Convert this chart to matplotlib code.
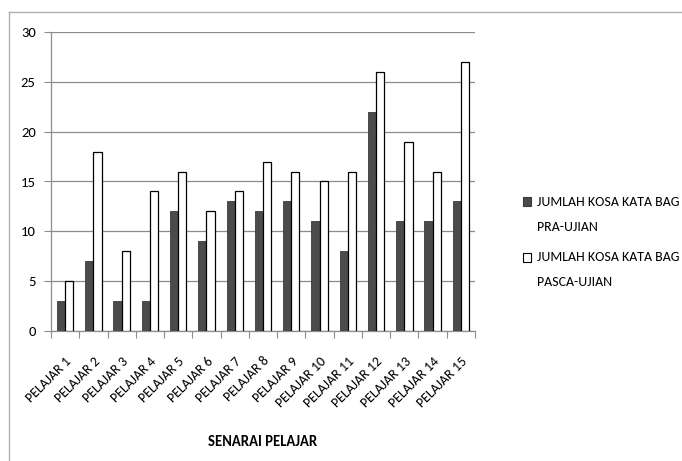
import matplotlib; matplotlib.use('Agg')
import matplotlib.pyplot as plt
from matplotlib.patches import Rectangle
import numpy as np

plt.rcParams['font.family'] = ['Carlito', 'DejaVu Sans']

students = ['PELAJAR %d' % i for i in range(1, 16)]
pra = [3, 7, 3, 3, 12, 9, 13, 12, 13, 11, 8, 22, 11, 11, 13]
pasca = [5, 18, 8, 14, 16, 12, 14, 17, 16, 15, 16, 26, 19, 16, 27]
series_names = [('JUMLAH KOSA KATA BAG', 'PRA-UJIAN'), ('JUMLAH KOSA KATA BAG', 'PASCA-UJIAN')]
series_colors = ['#4b4b4b', 'white']
edge_colors = ['#3a3a3a', 'black']

W, H = 682, 461
fig = plt.figure(figsize=(W/100, H/100), dpi=100)
ax = fig.add_axes([51/W, 130/H, 424/W, 299/H])

x = np.arange(len(students))
w = 0.29
ax.bar(x - w/2, pra, w, color=series_colors[0], edgecolor=edge_colors[0], linewidth=0.6, zorder=3)
ax.bar(x + w/2, pasca, w, color=series_colors[1], edgecolor=edge_colors[1], linewidth=0.9, zorder=3)

ax.set_xlim(-0.5, len(students) - 0.5)
ax.set_ylim(0, 30)
ax.set_yticks(range(0, 31, 5))
ax.yaxis.grid(True, color='#8c8c8c', linewidth=0.9, zorder=0)
ax.set_axisbelow(True)
for s in ['top', 'right']:
    ax.spines[s].set_visible(False)
for s in ['left', 'bottom']:
    ax.spines[s].set_color('#8c8c8c')
    ax.spines[s].set_linewidth(0.9)

ax.set_xticks(np.arange(-0.5, len(students)), minor=False)
ax.set_xticklabels([])
ax.set_xticks(x, minor=True)
ax.set_xticklabels(students, minor=True, rotation=45, ha='right', va='top',
                   rotation_mode='anchor', fontsize=10)
ax.tick_params(axis='x', which='major', length=5, color='#8c8c8c', direction='out')
ax.tick_params(axis='x', which='minor', length=0, pad=17)
ax.tick_params(axis='y', length=5, color='#8c8c8c', labelsize=10.5, pad=6)

ax.set_xlabel('SENARAI PELAJAR', fontsize=10.5, fontweight='bold', va='center')
ax.xaxis.set_label_coords(0.5, ((H - 442) / H - 130 / H) / (299 / H))

# legend, Excel style: square next to the first line of each entry
leg_rows = [202, 257]
for (l1, l2), fc, ec, yy in zip(series_names, series_colors, edge_colors, leg_rows):
    fig.add_artist(Rectangle((523/W, (H - yy - 4.5)/H), 8/W, 9/H, transform=fig.transFigure,
                             facecolor=fc, edgecolor=ec, linewidth=0.8))
    fig.text(537/W, (H - yy)/H, l1, fontsize=10, va='center', ha='left')
    fig.text(537/W, (H - yy - 25)/H, l2, fontsize=10, va='center', ha='left')

# outer chart frame
fig.add_artist(plt.Line2D([9/W, 9/W], [0, 1 - 12/H], color='#b0b0b0', linewidth=1))
fig.add_artist(plt.Line2D([9/W, 1], [1 - 12/H, 1 - 12/H], color='#b0b0b0', linewidth=1))

fig.savefig('out.png', dpi=100)
